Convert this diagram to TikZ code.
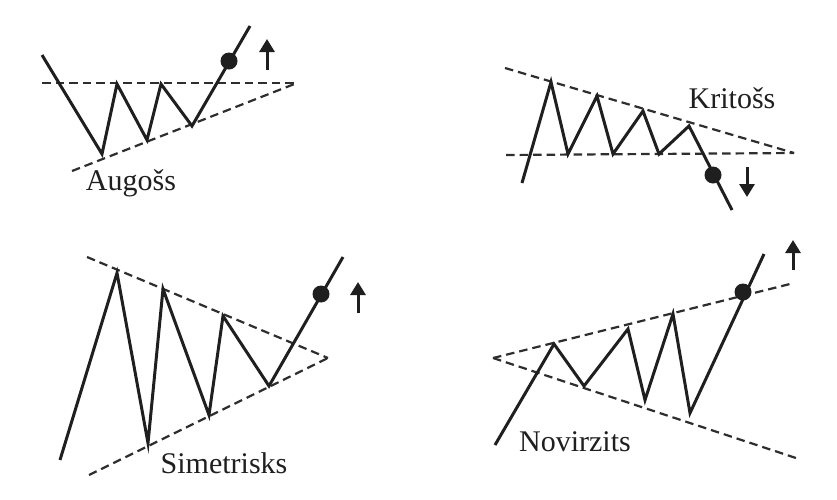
\documentclass[tikz,border=0pt]{standalone}
\usepackage{fontspec}
\setmainfont{Liberation Serif}
\usetikzlibrary{arrows.meta}

\begin{document}
\begin{tikzpicture}[x=1pt,y=-1pt,
    price/.style={draw=black!88,line width=3pt,line join=miter},
    trend/.style={draw=black!82,line width=2.2pt,dash pattern=on 8.5pt off 5pt},
    brk/.style={circle,fill=black!88,inner sep=0pt,minimum size=17pt},
    move/.style={-{Triangle[length=13pt,width=15pt]},draw=black!88,line width=3pt},
    lbl/.style={font=\fontsize{30}{33}\selectfont,text=black!88}
  ]
  \useasboundingbox (0,0) rectangle (837,499);

  % Augošs
  \coordinate (a0) at (42,55);  \coordinate (a1) at (102,154);
  \coordinate (a2) at (117,84); \coordinate (a3) at (147,140);
  \coordinate (a4) at (161,84); \coordinate (a5) at (192,126);
  \coordinate (a6) at (250,26);
  \coordinate (aTop) at (42,83); \coordinate (aLow) at (72,171);
  \coordinate (aApex) at (297,83);
  \draw[trend] (aTop) -- (aApex);
  \draw[trend] (aLow) -- (aApex);
  \draw[price] (a0)--(a1)--(a2)--(a3)--(a4)--(a5)--(a6);
  \node[brk] (aDot) at (229,61) {};
  \coordinate (aUp0) at (267,70); \coordinate (aUp1) at (267,39);
  \draw[move] (aUp0) -- (aUp1);
  \node[lbl] (augoss) at (131,183) {Augošs};

  % Kritošs
  \coordinate (k0) at (522,183); \coordinate (k1) at (551,82);
  \coordinate (k2) at (568,154); \coordinate (k3) at (597,96);
  \coordinate (k4) at (613,154); \coordinate (k5) at (643,111);
  \coordinate (k6) at (659,154); \coordinate (k7) at (689,126);
  \coordinate (k8) at (732,210);
  \coordinate (kTop) at (505,68); \coordinate (kLow) at (506,155);
  \coordinate (kApex) at (794,153);
  \draw[trend] (kTop) -- (kApex);
  \draw[trend] (kLow) -- (kApex);
  \draw[price] (k0)--(k1)--(k2)--(k3)--(k4)--(k5)--(k6)--(k7)--(k8);
  \node[brk] (kDot) at (713,175) {};
  \coordinate (kDn0) at (747,167); \coordinate (kDn1) at (747,197);
  \draw[move] (kDn0) -- (kDn1);
  \node[lbl] (kritoss) at (732,98) {Kritošs};

  % Simetrisks
  \coordinate (s0) at (60,460);  \coordinate (s1) at (117,273);
  \coordinate (s2) at (148,443); \coordinate (s3) at (163,289);
  \coordinate (s4) at (209,415); \coordinate (s5) at (223,316);
  \coordinate (s6) at (269,386); \coordinate (s7) at (343,257);
  \coordinate (sTop) at (87,257); \coordinate (sLow) at (89,475);
  \coordinate (sApex) at (328,358);
  \draw[trend] (sTop) -- (sApex);
  \draw[trend] (sLow) -- (sApex);
  \draw[price] (s0)--(s1)--(s2)--(s3)--(s4)--(s5)--(s6)--(s7);
  \node[brk] (sDot) at (321,294) {};
  \coordinate (sUp0) at (358,313); \coordinate (sUp1) at (358,282);
  \draw[move] (sUp0) -- (sUp1);
  \node[lbl] (simetrisks) at (224,463) {Simetrisks};

  % Novirzits
  \coordinate (n0) at (495,445); \coordinate (n1) at (554,344);
  \coordinate (n2) at (584,386); \coordinate (n3) at (628,329);
  \coordinate (n4) at (645,400); \coordinate (n5) at (673,314);
  \coordinate (n6) at (690,413); \coordinate (n7) at (764,254);
  \coordinate (nApex) at (493,358); \coordinate (nTop) at (794,283);
  \coordinate (nLow) at (796,458);
  \draw[trend] (nApex) -- (nTop);
  \draw[trend] (nApex) -- (nLow);
  \draw[price] (n0)--(n1)--(n2)--(n3)--(n4)--(n5)--(n6)--(n7);
  \node[brk] (nDot) at (743,292) {};
  \coordinate (nUp0) at (793,270); \coordinate (nUp1) at (793,240);
  \draw[move] (nUp0) -- (nUp1);
  \node[lbl] (novirzits) at (575,442) {Novirzits};
\end{tikzpicture}
\end{document}
